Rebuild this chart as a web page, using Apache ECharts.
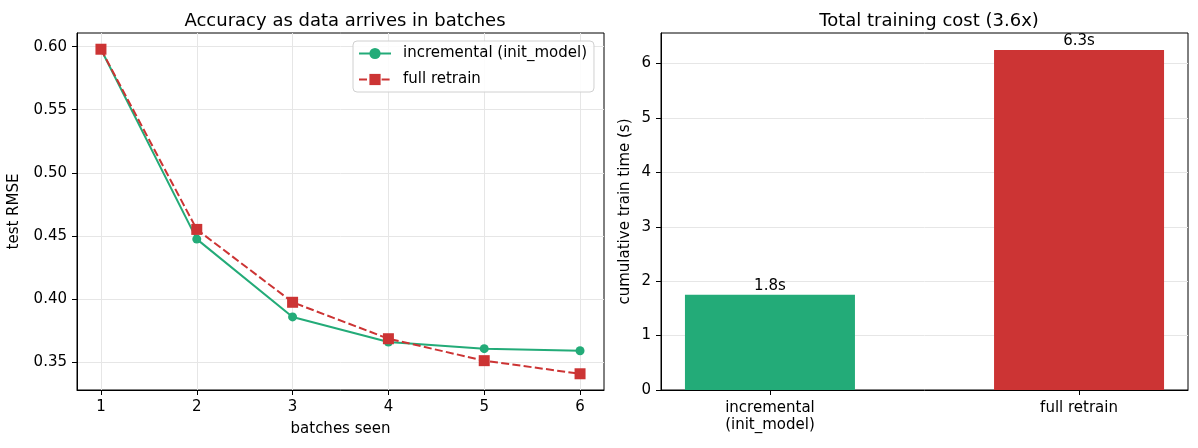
<!DOCTYPE html>
<html>
<head>
<meta charset="utf-8">
<script src="https://cdn.jsdelivr.net/npm/echarts@6/dist/echarts.min.js"></script>
<style>
  html, body { margin: 0; padding: 0; background: #fff; }
  #chart { width: 1198px; height: 448px; }
</style>
</head>
<body>
<div id="chart"></div>
<script>
// data
const batches = [1, 2, 3, 4, 5, 6];
const incrementalRmse = [0.598, 0.4474, 0.3857, 0.3658, 0.3605, 0.3589];
const retrainRmse = [0.598, 0.4551, 0.3973, 0.3684, 0.3510, 0.3406];

const methods = ['incremental\n(init_model)', 'full retrain'];
const trainTime = [1.75, 6.25];

const green = '#23ab78';
const red = '#cc3434';
const font = 'DejaVu Sans';
const gridColor = '#e6e6e6';

// matplotlib-like 5% margins
const allRmse = incrementalRmse.concat(retrainRmse);
const rMin = Math.min(...allRmse), rMax = Math.max(...allRmse);
const rPad = (rMax - rMin) * 0.05;
const barW = 0.55;
const xPad = (methods.length - 1 + barW) * 0.05;

const chart = echarts.init(document.getElementById('chart'), null, { renderer: 'canvas' });

const axisCommon = {
  axisLine: { onZero: false, lineStyle: { color: '#000', width: 1 } },
  axisTick: { length: 5, lineStyle: { color: '#000', width: 1 } },
  axisLabel: { color: '#000', fontFamily: font, fontSize: 15, margin: 10 },
  nameTextStyle: { color: '#000', fontFamily: font, fontSize: 15 },
};

const option = {
  animation: false,
  backgroundColor: '#fff',
  title: [
    { text: 'Accuracy as data arrives in batches', left: 340, top: 7, textAlign: 'center',
      textStyle: { fontFamily: font, fontSize: 18, fontWeight: 'normal', color: '#000' } },
    { text: 'Total training cost (3.6x)', left: 924, top: 7, textAlign: 'center',
      textStyle: { fontFamily: font, fontSize: 18, fontWeight: 'normal', color: '#000' } },
  ],
  legend: {
    orient: 'vertical',
    left: 353, top: 41,
    padding: [5, 7, 5, 5],
    itemWidth: 32, itemHeight: 14, itemGap: 11,
    borderColor: '#d0d0d0', borderWidth: 1, borderRadius: 4,
    backgroundColor: 'rgba(255,255,255,0.85)',
    textStyle: { fontFamily: font, fontSize: 15, color: '#000', padding: [0, 0, 0, 7] },
    data: ['incremental (init_model)', 'full retrain'],
  },
  grid: [
    { left: 77, top: 33, width: 527, height: 357, show: true, borderColor: '#000', borderWidth: 1 },
    { left: 661, top: 33, width: 527, height: 357, show: true, borderColor: '#000', borderWidth: 1 },
  ],
  xAxis: [
    {
      ...axisCommon, gridIndex: 0, type: 'value',
      min: batches[0] - 0.25, max: batches[batches.length - 1] + 0.25, splitNumber: 5,
      name: 'batches seen', nameLocation: 'middle', nameGap: 32,
      axisTick: { ...axisCommon.axisTick, customValues: batches },
      axisLabel: { ...axisCommon.axisLabel, customValues: batches },
      splitLine: { show: true, lineStyle: { color: gridColor, width: 1 } },
    },
    {
      ...axisCommon, gridIndex: 1, type: 'value',
      min: -barW / 2 - xPad, max: methods.length - 1 + barW / 2 + xPad,
      axisTick: { ...axisCommon.axisTick, customValues: [0, 1] },
      axisLabel: { ...axisCommon.axisLabel, customValues: [0, 1], lineHeight: 17,
        formatter: (v) => methods[Math.round(v)] },
      splitLine: { show: false },
    },
  ],
  yAxis: [
    {
      ...axisCommon, gridIndex: 0, type: 'value',
      min: rMin - rPad, max: rMax + rPad, splitNumber: 5,
      name: 'test RMSE', nameLocation: 'middle', nameGap: 55,
      axisTick: { ...axisCommon.axisTick, customValues: [0.35, 0.4, 0.45, 0.5, 0.55, 0.6] },
      axisLabel: { ...axisCommon.axisLabel, customValues: [0.35, 0.4, 0.45, 0.5, 0.55, 0.6],
        formatter: (v) => v.toFixed(2) },
      splitLine: { show: true, lineStyle: { color: gridColor, width: 1 } },
    },
    {
      ...axisCommon, gridIndex: 1, type: 'value',
      min: 0, max: Math.max(...trainTime) * 1.05, splitNumber: 5,
      name: 'cumulative train time (s)', nameLocation: 'middle', nameGap: 28,
      axisTick: { ...axisCommon.axisTick, customValues: [0, 1, 2, 3, 4, 5, 6] },
      axisLabel: { ...axisCommon.axisLabel, customValues: [0, 1, 2, 3, 4, 5, 6] },
      splitLine: { show: true, lineStyle: { color: gridColor, width: 1 } },
    },
  ],
  series: [
    {
      name: 'incremental (init_model)', type: 'line', xAxisIndex: 0, yAxisIndex: 0,
      data: batches.map((b, i) => [b, incrementalRmse[i]]),
      symbol: 'circle', symbolSize: 9,
      lineStyle: { color: green, width: 2 },
      itemStyle: { color: green },
      z: 3,
    },
    {
      name: 'full retrain', type: 'line', xAxisIndex: 0, yAxisIndex: 0,
      data: batches.map((b, i) => [b, retrainRmse[i]]),
      symbol: 'rect', symbolSize: 11,
      lineStyle: { color: red, width: 2, type: [8, 3.3] },
      itemStyle: { color: red },
      z: 4,
    },
    {
      name: 'cost', type: 'bar', xAxisIndex: 1, yAxisIndex: 1,
      barWidth: 170,
      data: trainTime.map((t, i) => ({ value: [i, t], itemStyle: { color: i === 0 ? green : red } })),
      label: {
        show: true, position: 'top', distance: 1,
        fontFamily: font, fontSize: 15, color: '#000',
        formatter: (p) => p.value[1].toFixed(1) + 's',
      },
    },
  ],
};

chart.setOption(option);
</script>
</body>
</html>
